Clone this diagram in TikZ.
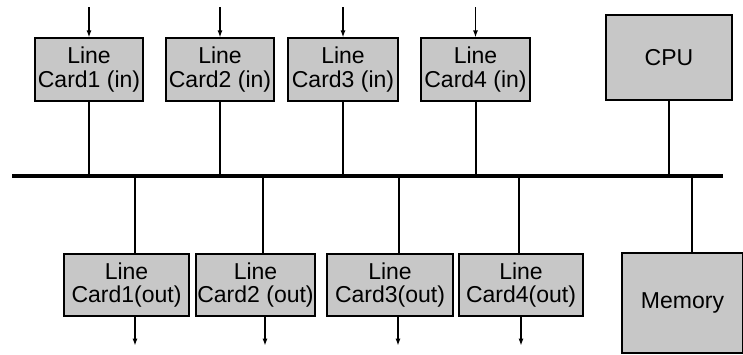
\documentclass[tikz,border=0pt]{standalone}
\usepackage{fontspec}
\setmainfont{Liberation Sans}
\usetikzlibrary{arrows.meta}

\begin{document}
\begin{tikzpicture}[x=1pt,y=-1pt,>={Latex[length=7pt,width=5pt]},
  font=\fontsize{23}{23.5}\selectfont,
  card/.style={draw,line width=1.2pt,fill=black!22,align=center,inner sep=0pt,minimum height=63pt},
  wire/.style={line width=2pt},
  flow/.style={->,line width=1.2pt}]
  \useasboundingbox (0,0) rectangle (743,354);
  % input side
  \node[card,minimum width=108pt] (in1) at (89,69.5) {Line\\Card1 (in)};
  \node[card,minimum width=108pt] (in2) at (220,69.5) {Line\\Card2 (in)};
  \node[card,minimum width=110pt] (in3) at (343,69.5) {Line\\Card3 (in)};
  \node[card,minimum width=109pt] (in4) at (475.5,69.5) {Line\\Card4 (in)};
  \node[card,minimum width=126pt,minimum height=85pt] (cpu) at (669,57.5) {CPU};
  % the bus
  \node[fill=black,inner sep=0pt,minimum width=711pt,minimum height=4pt] (bus) at (367.5,176) {};
  % output side
  \node[card,minimum width=125pt,minimum height=62pt] (out1) at (126.5,285) {Line\\Card1(out)};
  \node[card,minimum width=119pt,minimum height=62pt] (out2) at (255.5,285) {Line\\Card2 (out)};
  \node[card,minimum width=126pt,minimum height=62pt] (out3) at (390,285) {Line\\Card3(out)};
  \node[card,minimum width=124pt,minimum height=62pt] (out4) at (521,285) {Line\\Card4(out)};
  \node[card,minimum width=121pt,minimum height=100pt] (mem) at (682.5,303) {Memory};
  % incoming traffic
  \draw[flow] ([yshift=30pt]in1.north) -- (in1.north);
  \draw[flow] ([yshift=30pt]in2.north) -- (in2.north);
  \draw[flow] ([yshift=30pt]in3.north) -- (in3.north);
  \draw[flow] ([yshift=30pt]in4.north) -- (in4.north);
  % links to the bus
  \draw[wire] (in1.south) -- (in1.south |- bus.north);
  \draw[wire] (in2.south) -- (in2.south |- bus.north);
  \draw[wire] (in3.south) -- (in3.south |- bus.north);
  \draw[wire] (in4.south) -- (in4.south |- bus.north);
  \draw[wire] (cpu.south) -- (cpu.south |- bus.north);
  \draw[wire] ([xshift=8.5pt]out1.north) -- ([xshift=8.5pt]out1.north |- bus.south);
  \draw[wire] ([xshift=7.5pt]out2.north) -- ([xshift=7.5pt]out2.north |- bus.south);
  \draw[wire] ([xshift=9pt]out3.north) -- ([xshift=9pt]out3.north |- bus.south);
  \draw[wire] ([xshift=-2pt]out4.north) -- ([xshift=-2pt]out4.north |- bus.south);
  \draw[wire] ([xshift=9.5pt]mem.north) -- ([xshift=9.5pt]mem.north |- bus.south);
  % outgoing traffic
  \draw[flow] ([xshift=8.5pt]out1.south) -- ([xshift=8.5pt,yshift=-29pt]out1.south);
  \draw[flow] ([xshift=9.5pt]out2.south) -- ([xshift=9.5pt,yshift=-29pt]out2.south);
  \draw[flow] ([xshift=8pt]out3.south) -- ([xshift=8pt,yshift=-29pt]out3.south);
  \draw[flow] (out4.south) -- ([yshift=-29pt]out4.south);
\end{tikzpicture}
\end{document}
